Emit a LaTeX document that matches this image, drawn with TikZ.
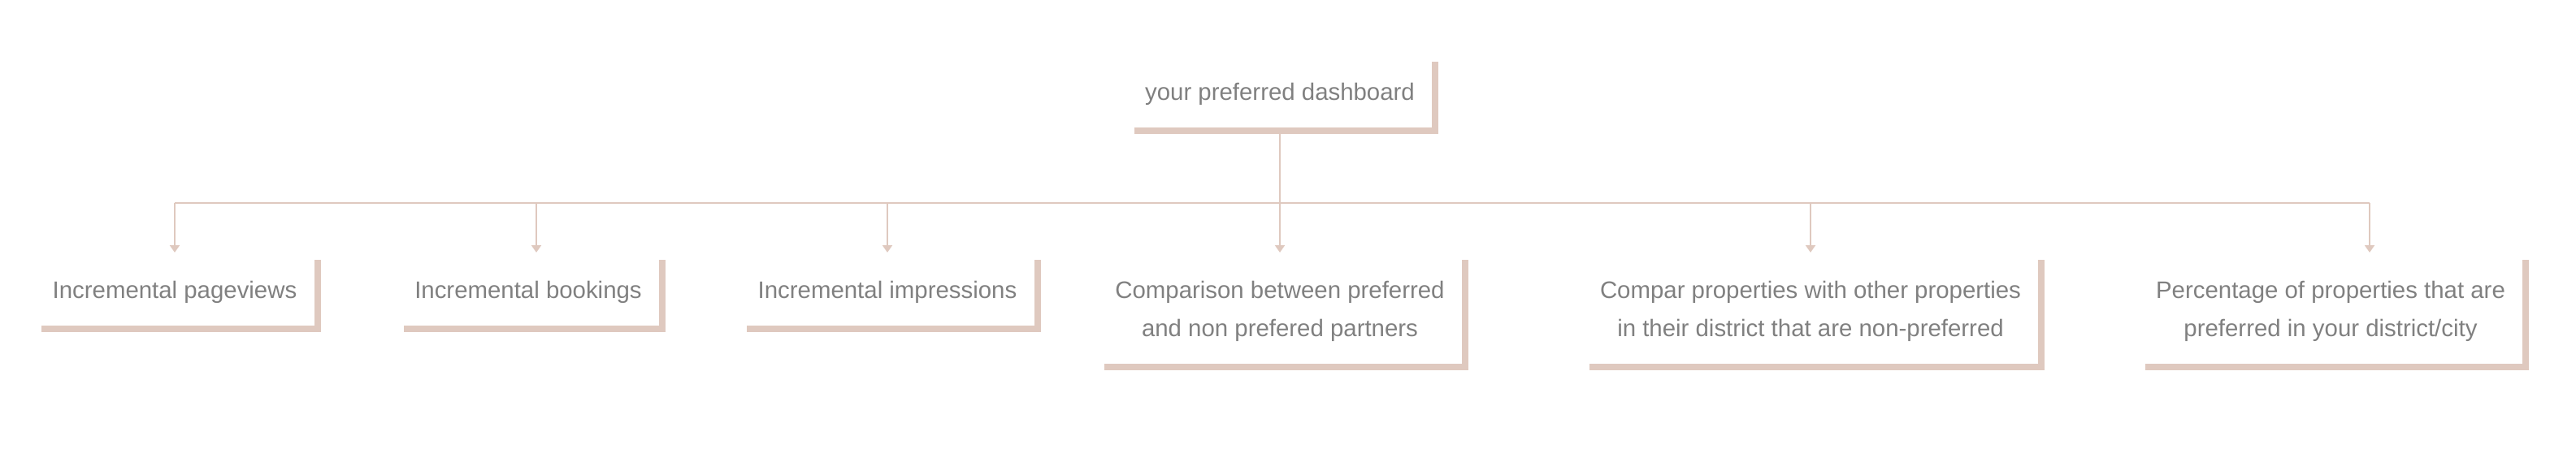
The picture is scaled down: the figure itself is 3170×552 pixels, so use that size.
\documentclass[tikz,border=0pt]{standalone}
\usepackage{fontspec}
\setmainfont{Liberation Sans}
\usetikzlibrary{arrows.meta}
\definecolor{sand}{HTML}{DFC9BF}
\definecolor{inkgray}{HTML}{808080}

\begin{document}
\begin{tikzpicture}[x=0.5pt, y=-0.5pt,
    card/.style={inner sep=0pt, anchor=north, align=center, text=inkgray,
      font=\fontsize{14.7pt}{23.5pt}\selectfont},
    bracket/.style={draw=sand, line width=4pt, line join=miter},
    link/.style={draw=sand, line width=1pt}]
    \useasboundingbox (0,0) rectangle (3170,552);

    % Top node
    \node[card] (dash) at (1575,102) {your preferred dashboard};

    % Child nodes
    \node[card] (pv) at (215,346) {Incremental pageviews};
    \node[card] (bk) at (650,346) {Incremental bookings};
    \node[card] (im) at (1092,346) {Incremental impressions};
    \node[card] (cmp) at (1575,346) {Comparison between preferred\\and non prefered partners};
    \node[card] (dist) at (2228,346) {Compar properties with other properties\\in their district that are non-preferred};
    \node[card] (pct) at (2868,346) {Percentage of properties that are\\preferred in your district/city};

    % Bus line
    \draw[link] ([yshift=-15.4pt]dash.south) -- ([yshift=48pt]cmp.north);
    \draw[link] ([yshift=48pt]pv.north) -- ([xshift=24pt,yshift=48pt]pct.north);

    % Arrows down to the children
    \foreach \n/\dx in {pv/0, bk/5, im/0, cmp/0, dist/0, pct/24}
      \draw[link, -{Triangle[width=6pt,length=4.5pt]}]
        ([xshift=\dx pt,yshift=48pt]\n.north) -- ([xshift=\dx pt,yshift=17.5pt]\n.north);

    % Brackets (right and bottom edges)
    \foreach \n in {dash,pv,bk,im,cmp,dist,pct}
      \draw[bracket] ([xshift=-6.5pt,yshift=-15.4pt]\n.south west)
        -- ([xshift=12.5pt,yshift=-15.4pt]\n.south east)
        -- ([xshift=12.5pt,yshift=13pt]\n.north east);
\end{tikzpicture}
\end{document}
